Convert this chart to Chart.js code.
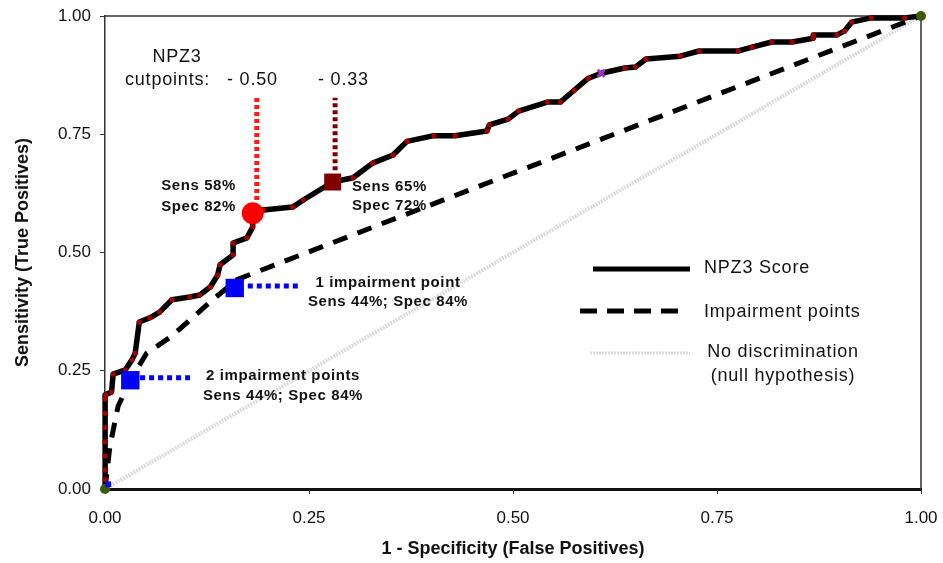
<!DOCTYPE html>
<html><head><meta charset="utf-8">
<script src="https://cdn.jsdelivr.net/npm/chart.js@4.4.1/dist/chart.umd.min.js"></script>
<style>html,body{margin:0;padding:0;background:#fff}#wrap{width:943px;height:563px}</style>
</head><body><div id="wrap"><canvas id="c" width="943" height="563"></canvas></div>
<script>
// ---- data ----
const xTickValues = [0, 0.25, 0.5, 0.75, 1];
const yTickValues = [0, 0.25, 0.5, 0.75, 1];
const tickLabels = ['0.00', '0.25', '0.50', '0.75', '1.00'];

const npz3X = [0, 0, 0, 0, 0, 0, 0, 0, 0.001, 0.008, 0.010, 0.025, 0.033, 0.037, 0.042, 0.055, 0.067, 0.082, 0.104, 0.116, 0.129, 0.138, 0.141, 0.157, 0.157, 0.174, 0.181, 0.181, 0.194, 0.230, 0.243, 0.279, 0.304, 0.328, 0.353, 0.370, 0.403, 0.429, 0.468, 0.471, 0.494, 0.507, 0.542, 0.558, 0.575, 0.592, 0.608, 0.637, 0.650, 0.663, 0.705, 0.728, 0.776, 0.793, 0.817, 0.842, 0.868, 0.868, 0.897, 0.906, 0.915, 0.939, 0.980, 1.0];
const npz3Y = [0, 0.02, 0.04, 0.07, 0.10, 0.13, 0.16, 0.19, 0.199, 0.205, 0.243, 0.252, 0.273, 0.287, 0.353, 0.362, 0.374, 0.400, 0.406, 0.410, 0.427, 0.452, 0.474, 0.495, 0.520, 0.531, 0.554, 0.583, 0.590, 0.596, 0.611, 0.649, 0.658, 0.689, 0.706, 0.735, 0.747, 0.747, 0.757, 0.770, 0.782, 0.799, 0.818, 0.818, 0.843, 0.868, 0.879, 0.890, 0.892, 0.909, 0.915, 0.926, 0.926, 0.934, 0.945, 0.945, 0.953, 0.960, 0.960, 0.968, 0.987, 0.996, 0.996, 1.0];

const impX = [0, 0.006, 0.016, 0.031, 0.051, 0.080, 0.104, 0.132, 0.162, 1.0];
const impY = [0, 0.090, 0.175, 0.230, 0.287, 0.321, 0.357, 0.400, 0.443, 1.0];

const nullX = [0, 1];
const nullY = [0, 1];

const cutpointX = [0.181, 0.279];
const cutpointY = [0.583, 0.649];
const impPointX = [0.031, 0.159];
const impPointY = [0.230, 0.425];
const specialX = [0.608];
const specialY = [0.879];

const guide050X = [0.186, 0.186], guide050Y = [0.611, 0.827];
const guide033X = [0.282, 0.282], guide033Y = [0.674, 0.827];
const guide2X = [0.043, 0.107], guide2Y = [0.235, 0.235];
const guide1X = [0.175, 0.241], guide1Y = [0.429, 0.429];

const zip = (xs, ys) => xs.map((x, i) => ({x, y: ys[i]}));
const FONT = "'Liberation Sans', Arial, Helvetica, sans-serif";

function line(data, color, width, dash, order, extra) {
  return Object.assign({type: 'scatter', data, showLine: true, borderColor: color, borderWidth: width,
    borderDash: dash || [], pointRadius: 0, order, clip: false, tension: 0,
    borderCapStyle: 'butt', borderJoinStyle: 'round'}, extra || {});
}
function pts(data, style, radius, color, order, extra) {
  return Object.assign({type: 'scatter', data, showLine: false, pointStyle: style, pointRadius: radius,
    pointBackgroundColor: color, pointBorderColor: color, pointBorderWidth: 0, order, clip: false}, extra || {});
}

const datasets = [
  line(zip(nullX, nullY), '#dcdcdc', 4, [2, 1], 10),
  line(zip(impX, impY), '#000', 5, [15, 11], 9),
  line(zip(npz3X, npz3Y), '#000', 5.5, [], 8, {pointRadius: 2.6, pointBackgroundColor: '#a30000', pointBorderWidth: 0}),
  line(zip(guide050X, guide050Y), '#ff1a1a', 5, [4, 3], 5),
  line(zip(guide033X, guide033Y), '#800000', 5, [4, 3], 5),
  line(zip(guide2X, guide2Y), '#0000ff', 5, [5, 4], 5),
  line(zip(guide1X, guide1Y), '#0000ff', 5, [5, 4], 5),
  pts([{x: cutpointX[0], y: cutpointY[0]}], 'circle', 11, '#ff0000', 2),
  pts([{x: cutpointX[1], y: cutpointY[1]}], 'rect', 12, '#800000', 2),
  pts(zip(impPointX, impPointY), 'rect', 13, '#0000ff', 2),
  pts(zip(specialX, specialY), 'crossRot', 5, '#9933cc', 1, {pointBorderWidth: 3}),
  pts([{x: 0, y: 0}, {x: 1, y: 1}], 'circle', 5, '#3a5a10', 1),
  pts([{x: 0.004, y: 0.01}], 'rect', 4, '#0000ff', 0)
];

function drawText(ctx, s, x, y, font, align, spacing) {
  ctx.save();
  ctx.font = font;
  ctx.fillStyle = '#111';
  ctx.textBaseline = 'middle';
  ctx.textAlign = align || 'left';
  try { ctx.letterSpacing = (spacing || 0) + 'px'; } catch (e) {}
  ctx.fillText(s, x, y);
  ctx.restore();
}

const decor = {
  id: 'decor',
  beforeDatasetsDraw(chart) {
    const {ctx, chartArea: a} = chart;
    ctx.save();
    ctx.strokeStyle = '#333';
    ctx.lineWidth = 1.5;
    ctx.beginPath();
    ctx.moveTo(a.left, a.top); ctx.lineTo(a.right, a.top); ctx.lineTo(a.right, a.bottom);
    ctx.stroke();
    ctx.restore();
  },
  afterDatasetsDraw(chart) {
    const {ctx} = chart;
    const reg = "18px " + FONT;
    const bold = "bold 15px " + FONT;
    drawText(ctx, 'NPZ3', 177, 57, reg, 'center', 0.8);
    drawText(ctx, 'cutpoints:', 125, 80, reg, 'left', 0.8);
    drawText(ctx, '- 0.50', 227, 80, reg, 'left', 0.8);
    drawText(ctx, '- 0.33', 318, 80, reg, 'left', 0.8);
    drawText(ctx, 'Sens 58%', 236, 186, bold, 'right', 0.6);
    drawText(ctx, 'Spec 82%', 236, 207, bold, 'right', 0.6);
    drawText(ctx, 'Sens 65%', 352, 187, bold, 'left', 0.6);
    drawText(ctx, 'Spec 72%', 352, 206, bold, 'left', 0.6);
    drawText(ctx, '1 impairment point', 388, 283, bold, 'center', 0.6);
    drawText(ctx, 'Sens 44%; Spec 84%', 388, 302, bold, 'center', 0.6);
    drawText(ctx, '2 impairment points', 283, 376, bold, 'center', 0.6);
    drawText(ctx, 'Sens 44%; Spec 84%', 283, 396, bold, 'center', 0.6);
    // legend
    const ds = chart.data.datasets;
    const items = [
      {d: ds[2], y: 269, x0: 593, x1: 690, w: 5, t: 'NPZ3 Score'},
      {d: ds[1], y: 311, x0: 580, x1: 680, w: 5, t: 'Impairment points'},
      {d: ds[0], y: 353, x0: 590, x1: 690, w: 3, t: 'No discrimination'}
    ];
    items.forEach(it => {
      ctx.save();
      ctx.strokeStyle = it.d.borderColor;
      ctx.lineWidth = it.w;
      ctx.setLineDash(it.t === 'Impairment points' ? [17, 10] : it.d.borderDash);
      ctx.beginPath(); ctx.moveTo(it.x0, it.y); ctx.lineTo(it.x1, it.y); ctx.stroke();
      ctx.restore();
    });
    drawText(ctx, 'NPZ3 Score', 704, 268, reg, 'left', 0.8);
    drawText(ctx, 'Impairment points', 704, 312, reg, 'left', 0.8);
    drawText(ctx, 'No discrimination', 783, 352, reg, 'center', 0.8);
    drawText(ctx, '(null hypothesis)', 783, 376, reg, 'center', 0.8);
  }
};

function zeroPad(s) { s.paddingTop = 0; s.paddingBottom = 0; s.paddingLeft = 0; s.paddingRight = 0; }

new Chart(document.getElementById('c'), {
  type: 'scatter',
  data: {datasets},
  options: {
    responsive: false, animation: false, devicePixelRatio: 1, events: [],
    layout: {autoPadding: false, padding: {top: 16, right: 22, left: 0, bottom: 0}},
    plugins: {legend: {display: false}, tooltip: {enabled: false}},
    scales: {
      x: {
        type: 'linear', min: 0, max: 1,
        afterBuildTicks: s => { s.ticks = xTickValues.map(v => ({value: v})); },
        afterFit: s => { s.height = 74; zeroPad(s); },
        ticks: {callback: (v, i) => tickLabels[i], font: {family: FONT, size: 17}, color: '#111', padding: 14, maxRotation: 0, autoSkip: false},
        grid: {drawOnChartArea: false, drawTicks: true, tickLength: 5, color: '#333', lineWidth: 1},
        border: {display: true, width: 3, color: '#111'},
        title: {display: true, text: '1 - Specificity (False Positives)', font: {family: FONT, size: 18, weight: 'bold'}, color: '#111', padding: {top: 0, bottom: 3}}
      },
      y: {
        type: 'linear', min: 0, max: 1,
        afterBuildTicks: s => { s.ticks = yTickValues.map(v => ({value: v})); },
        afterFit: s => { s.width = 105; zeroPad(s); },
        ticks: {callback: (v, i) => tickLabels[i], font: {family: FONT, size: 17}, color: '#111', padding: 9, autoSkip: false},
        grid: {drawOnChartArea: false, drawTicks: true, tickLength: 5, color: '#333', lineWidth: 1},
        border: {display: true, width: 1.5, color: '#333'},
        title: {display: true, text: 'Sensitivity (True Positives)', font: {family: FONT, size: 18, weight: 'bold'}, color: '#111', padding: {top: 12, bottom: 0}}
      }
    }
  },
  plugins: [decor]
});
</script>
</body></html>
